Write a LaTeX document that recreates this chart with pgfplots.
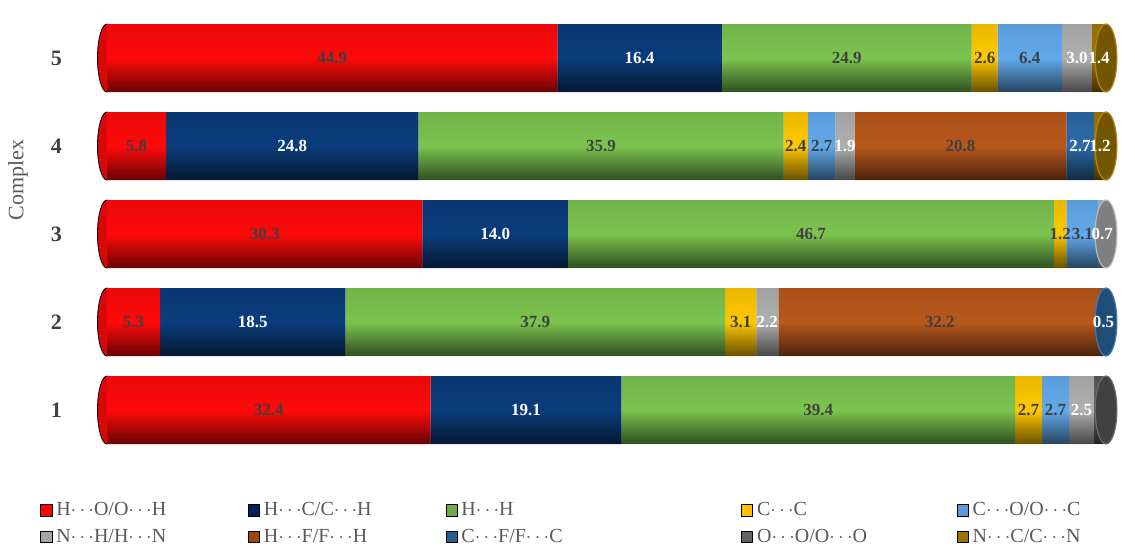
\documentclass[border=0pt]{standalone}
\usepackage{pgfplots}
\usepackage{pgfplotstable}
\pgfplotsset{compat=1.18}
\usetikzlibrary{fadings}
\usepackage{fontspec}
\setmainfont{Liberation Serif}

% bar colours (body)
\definecolor{cHO}{HTML}{FF0A0A}
\definecolor{cHC}{HTML}{0B3C7C}
\definecolor{cHH}{HTML}{7CC450}
\definecolor{cCC}{HTML}{FFC800}
\definecolor{cCO}{HTML}{62AAEC}
\definecolor{cNH}{HTML}{B0B0B0}
\definecolor{cHF}{HTML}{B8581C}
\definecolor{cCF}{HTML}{2C6AA6}
\definecolor{cOO}{HTML}{5A5A5A}
\definecolor{cNC}{HTML}{A07800}
% legend colours
\definecolor{lHO}{HTML}{FF0000}
\definecolor{lHC}{HTML}{002060}
\definecolor{lHH}{HTML}{70AD47}
\definecolor{lCC}{HTML}{FFC000}
\definecolor{lCO}{HTML}{5B9BD5}
\definecolor{lNH}{HTML}{A5A5A5}
\definecolor{lHF}{HTML}{9E480E}
\definecolor{lCF}{HTML}{255E91}
\definecolor{lOO}{HTML}{636363}
\definecolor{lNC}{HTML}{997300}
\definecolor{txt}{HTML}{595959}
\definecolor{dtxt}{HTML}{404040}

\tikzfading[name=cylfade, top color=transparent!92, bottom color=transparent!40, middle color=transparent!100]

\pgfplotstableread{
c  HO   HC   HH   CC  CO  NH  HF   CF  OO  NC  tot
1  32.4 19.1 39.4 2.7 2.7 2.5 0    0   1.2 0   100.0
2  5.3  18.5 37.9 3.1 0   2.2 32.2 0.5 0   0   99.7
3  30.3 14.0 46.7 1.2 3.1 0.7 0    0   0   0   96.0
4  5.8  24.8 35.9 2.4 2.7 1.9 20.8 2.7 0   1.2 98.2
5  44.9 16.4 24.9 2.6 6.4 3.0 0    0   0   1.4 99.6
}\data

\newcommand{\cd}{\ensuremath{\cdots}}

\pgfplotsset{
  base/.style={
    width=499.5pt, height=220pt, scale only axis,
    xmin=0, xmax=100, ymin=0.5, ymax=5.5,
    clip=false,
    axis line style={draw=none},
    tick style={draw=none},
    xtick=\empty,
    /pgf/number format/assume math mode=true,
  },
  seg/.style={fill=#1, draw=none},
  lab/.style={draw=none, mark=none, forget plot, point meta=explicit,
    nodes near coords={\pgfmathfloatifflags{\pgfplotspointmeta}{0}{}{\pgfmathprintnumber[fixed,fixed zerofill,precision=1,assume math mode=true]{\pgfplotspointmeta}}},
    every node near coord/.append style={anchor=center, text=#1, font=\fontsize{8.5}{10}\selectfont\bfseries}},
  cap/.style={only marks, mark=*, mark size=17pt, forget plot, mark options={xscale=0.32, fill=#1!72!black, draw=#1!90!white, line width=0.6pt}},
  shadebar/.style={xbar, bar width=34pt, draw=none, fill=black, path fading=cylfade, forget plot},
}

\begin{document}
\begin{tikzpicture}
% left rounded ends
\begin{axis}[base, ytick=\empty]
\addplot[only marks, mark=*, mark size=17pt, mark options={xscale=0.28, fill=cHO!85!black, draw=none}]
  coordinates {(0,1) (0,2) (0,3) (0,4) (0,5)};
\end{axis}
% bars
\begin{axis}[base,
  xbar stacked, bar width=34pt,
  ytick={1,2,3,4,5},
  yticklabel style={font=\fontsize{11}{13}\selectfont\bfseries, text=dtxt, xshift=-19pt},
  ylabel={Complex},
  ylabel style={font=\fontsize{11}{13}\selectfont, text=txt, at={(axis description cs:-0.089,0.623)}, anchor=center},
]
\addplot[seg=cHO] table[y=c, x expr=\thisrow{HO}/\thisrow{tot}*100]{\data};
\addplot[seg=cHC] table[y=c, x expr=\thisrow{HC}/\thisrow{tot}*100]{\data};
\addplot[seg=cHH] table[y=c, x expr=\thisrow{HH}/\thisrow{tot}*100]{\data};
\addplot[seg=cCC] table[y=c, x expr=\thisrow{CC}/\thisrow{tot}*100]{\data};
\addplot[seg=cCO] table[y=c, x expr=\thisrow{CO}/\thisrow{tot}*100]{\data};
\addplot[seg=cNH] table[y=c, x expr=\thisrow{NH}/\thisrow{tot}*100]{\data};
\addplot[seg=cHF] table[y=c, x expr=\thisrow{HF}/\thisrow{tot}*100]{\data};
\addplot[seg=cCF] table[y=c, x expr=\thisrow{CF}/\thisrow{tot}*100]{\data};
\addplot[seg=cOO] table[y=c, x expr=\thisrow{OO}/\thisrow{tot}*100]{\data};
\addplot[seg=cNC] table[y=c, x expr=\thisrow{NC}/\thisrow{tot}*100]{\data};
\end{axis}
% cylinder shading, end caps, labels and legend
\begin{axis}[base, ytick=\empty,
  legend columns=5,
  legend cell align=left,
  legend style={draw=none, fill=none, at={(axis description cs:-0.073,-0.088)}, anchor=north west,
    font=\fontsize{10}{12}\selectfont, text=txt, nodes={inner xsep=1.9pt, inner ysep=2.6pt}},
  legend image code/.code={\fill (0pt,-2.8pt) rectangle (5.6pt,2.8pt);},
]
\addplot[shadebar] coordinates {(100,1)};
\addplot[shadebar] coordinates {(100,2)};
\addplot[shadebar] coordinates {(100,3)};
\addplot[shadebar] coordinates {(100,4)};
\addplot[shadebar] coordinates {(100,5)};
\addplot[cap=cOO] coordinates {(100,1)};
\addplot[cap=cCF] coordinates {(100,2)};
\addplot[cap=cNH] coordinates {(100,3)};
\addplot[cap=cNC] coordinates {(100,4)};
\addplot[cap=cNC] coordinates {(100,5)};
% labels at the middle of each segment
\addplot[lab=dtxt] table[y=c, meta=HO, x expr=(0.5*\thisrow{HO})/\thisrow{tot}*100]{\data};
\addplot[lab=white] table[y=c, meta=HC, x expr=(\thisrow{HO}+0.5*\thisrow{HC})/\thisrow{tot}*100]{\data};
\addplot[lab=dtxt] table[y=c, meta=HH, x expr=(\thisrow{HO}+\thisrow{HC}+0.5*\thisrow{HH})/\thisrow{tot}*100]{\data};
\addplot[lab=dtxt] table[y=c, meta=CC, x expr=(\thisrow{HO}+\thisrow{HC}+\thisrow{HH}+0.5*\thisrow{CC})/\thisrow{tot}*100]{\data};
\addplot[lab=dtxt] table[y=c, meta=CO, x expr=(\thisrow{HO}+\thisrow{HC}+\thisrow{HH}+\thisrow{CC}+0.5*\thisrow{CO})/\thisrow{tot}*100]{\data};
\addplot[lab=white] table[y=c, meta=NH, x expr=(\thisrow{HO}+\thisrow{HC}+\thisrow{HH}+\thisrow{CC}+\thisrow{CO}+0.5*\thisrow{NH})/\thisrow{tot}*100]{\data};
\addplot[lab=dtxt] table[y=c, meta=HF, x expr=(\thisrow{HO}+\thisrow{HC}+\thisrow{HH}+\thisrow{CC}+\thisrow{CO}+\thisrow{NH}+0.5*\thisrow{HF})/\thisrow{tot}*100]{\data};
\addplot[lab=white] table[y=c, meta=CF, x expr=(\thisrow{HO}+\thisrow{HC}+\thisrow{HH}+\thisrow{CC}+\thisrow{CO}+\thisrow{NH}+\thisrow{HF}+0.5*\thisrow{CF})/\thisrow{tot}*100]{\data};
\addplot[lab=white] table[y=c, meta=NC, x expr=(\thisrow{HO}+\thisrow{HC}+\thisrow{HH}+\thisrow{CC}+\thisrow{CO}+\thisrow{NH}+\thisrow{HF}+\thisrow{CF}+\thisrow{OO}+0.5*\thisrow{NC})/\thisrow{tot}*100]{\data};
\addlegendimage{fill=lHO}\addlegendentry{\makebox[94pt][l]{H\cd O/O\cd H}}
\addlegendimage{fill=lHC}\addlegendentry{\makebox[89pt][l]{H\cd C/C\cd H}}
\addlegendimage{fill=lHH}\addlegendentry{\makebox[138pt][l]{H\cd H}}
\addlegendimage{fill=lCC}\addlegendentry{\makebox[98pt][l]{C\cd C}}
\addlegendimage{fill=lCO}\addlegendentry{C\cd O/O\cd C}
\addlegendimage{fill=lNH}\addlegendentry{\makebox[94pt][l]{N\cd H/H\cd N}}
\addlegendimage{fill=lHF}\addlegendentry{\makebox[89pt][l]{H\cd F/F\cd H}}
\addlegendimage{fill=lCF}\addlegendentry{\makebox[138pt][l]{C\cd F/F\cd C}}
\addlegendimage{fill=lOO}\addlegendentry{\makebox[98pt][l]{O\cd O/O\cd O}}
\addlegendimage{fill=lNC}\addlegendentry{N\cd C/C\cd N}
\end{axis}
\pgfresetboundingbox
\path (-53.5pt,-46.5pt) rectangle (514pt,227pt);
\end{tikzpicture}
\end{document}
